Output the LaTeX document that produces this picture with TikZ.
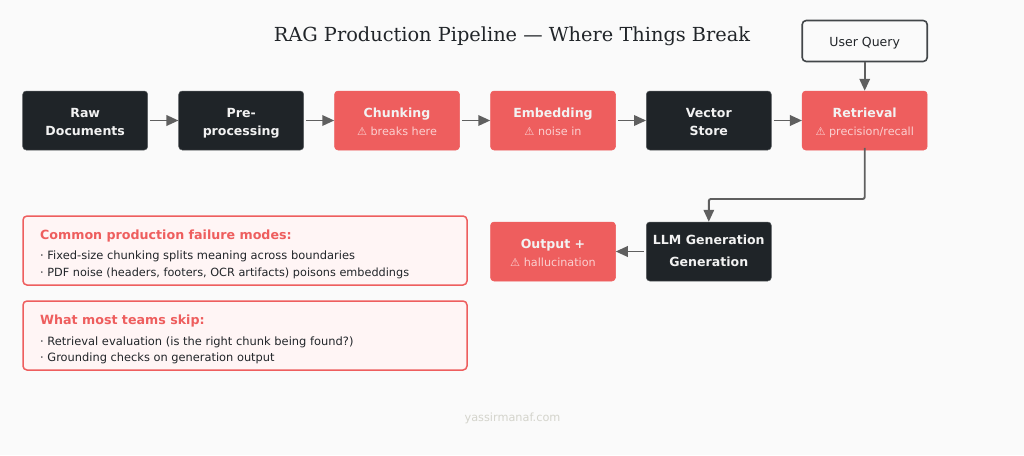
\documentclass[tikz,border=0pt]{standalone}
\usepackage{fontspec}
\setmainfont{DejaVu Sans}
\newfontfamily\serifdj{DejaVu Serif}
\usetikzlibrary{arrows.meta}
\definecolor{bgc}{HTML}{FAFAFA}
\definecolor{darkb}{HTML}{1F2428}
\definecolor{redb}{HTML}{EE5E5E}
\definecolor{ink}{HTML}{212529}
\definecolor{wtxt}{HTML}{F2F2F2}
\definecolor{warn}{HTML}{FBD0D0}
\definecolor{conn}{HTML}{5F5F5F}
\definecolor{panelf}{HTML}{FFF5F5}
\definecolor{foot}{HTML}{D4D4CC}
\tikzset{
  x=1pt,y=-1pt,
  boxbase/.style={rounded corners=3.5pt,minimum width=125pt,minimum height=59pt,align=center,inner sep=0pt,text=wtxt,font=\fontsize{12.55}{18}\selectfont\bfseries},
  darkbox/.style={boxbase,fill=darkb,draw=darkb!75!white,line width=.5pt},
  redbox/.style={boxbase,fill=redb,draw=redb,line width=.5pt},
  querybox/.style={draw=ink!85!white,line width=1.6pt,rounded corners=4pt,fill=bgc,minimum width=125pt,minimum height=41pt,inner sep=0pt,text=ink,font=\fontsize{12.5}{14}\selectfont},
  panelbox/.style={draw=redb,line width=1.5pt,fill=panelf,rounded corners=4pt,minimum width=444pt,minimum height=69pt,inner sep=0pt},
  panelhead/.style={anchor=base west,inner sep=0pt,text=redb,font=\fontsize{12.65}{15}\selectfont\bfseries},
  panelline/.style={anchor=base west,inner sep=0pt,text=ink},
  flow/.style={draw=conn,line width=1.9pt,-{Triangle[length=12pt,width=10.5pt]}}
}
\newcommand{\warnline}[1]{{\fontsize{11.2}{18}\selectfont\mdseries\color{warn}⚠ #1}}
\newcommand{\twolines}[3][1pt]{\rule{0pt}{12.6pt}\smash{#2}\\\rule[-#1]{0pt}{#1}\smash{#3}}
\begin{document}
\begin{tikzpicture}
\useasboundingbox[fill=bgc] (0,0) rectangle (1024,455);
\node[anchor=base,inner sep=0pt,text=ink,font=\serifdj\fontsize{19.35}{22}\selectfont] (title) at (512,41) {RAG Production Pipeline — Where Things Break};
\node[querybox] (query) at (864.7,41) {\rule{0pt}{10.6pt}\smash{User Query}};
\node[darkbox] (raw) at (85.2,120.5) {\twolines{Raw}{Documents}};
\node[darkbox] (pre) at (241.2,120.5) {\twolines{Pre-}{processing}};
\node[redbox] (chunk) at (397,120.5) {\twolines{Chunking}{\warnline{breaks here}}};
\node[redbox] (embed) at (553,120.5) {\twolines{Embedding}{\warnline{noise in}}};
\node[darkbox] (store) at (708.8,120.5) {\twolines{Vector}{Store}};
\node[redbox] (retr) at (864.7,120.5) {\twolines{Retrieval}{\warnline{precision/recall}}};
\node[darkbox,font=\fontsize{12.55}{22}\selectfont\bfseries] (llm) at (708.8,251.5) {\twolines[5.6pt]{LLM Generation}{Generation}};
\node[redbox] (out) at (553,251.5) {\twolines{Output +}{\warnline{hallucination}}};
\coordinate (bendA) at (864.7,199);
\coordinate (bendB) at (708.8,199);
\draw[flow] ([xshift=2pt]raw.east) -- (pre.west);
\draw[flow] ([xshift=2pt]pre.east) -- (chunk.west);
\draw[flow] ([xshift=2pt]chunk.east) -- (embed.west);
\draw[flow] ([xshift=2pt]embed.east) -- (store.west);
\draw[flow] ([xshift=2pt]store.east) -- (retr.west);
\draw[flow] (query.south) -- (retr.north);
\draw[flow,rounded corners=2pt] ([yshift=2.5pt]retr.south) -- (bendA) -- (bendB) -- (llm.north);
\draw[flow] ([xshift=-2pt]llm.west) -- (out.east);
\node[panelbox] (panelA) at (245,250.5) {};
\node[panelhead] (headA) at (40,239) {Common production failure modes:};
\node[panelline,font=\fontsize{11.45}{14}\selectfont] (lineA) at (40,259.5) {· Fixed-size chunking splits meaning across boundaries};
\node[panelline,font=\fontsize{11.27}{14}\selectfont] (lineB) at (40,276) {· PDF noise (headers, footers, OCR artifacts) poisons embeddings};
\node[panelbox] (panelB) at (245,335.5) {};
\node[panelhead] (headB) at (40,324) {What most teams skip:};
\node[panelline,font=\fontsize{11.45}{14}\selectfont] (lineC) at (40,345) {· Retrieval evaluation (is the right chunk being found?)};
\node[panelline,font=\fontsize{11.4}{14}\selectfont] (lineD) at (40,361.7) {· Grounding checks on generation output};
\node[anchor=base,inner sep=0pt,text=foot,font=\fontsize{11.3}{14}\selectfont] (footer) at (512.5,421) {yassirmanaf.com};
\end{tikzpicture}
\end{document}
